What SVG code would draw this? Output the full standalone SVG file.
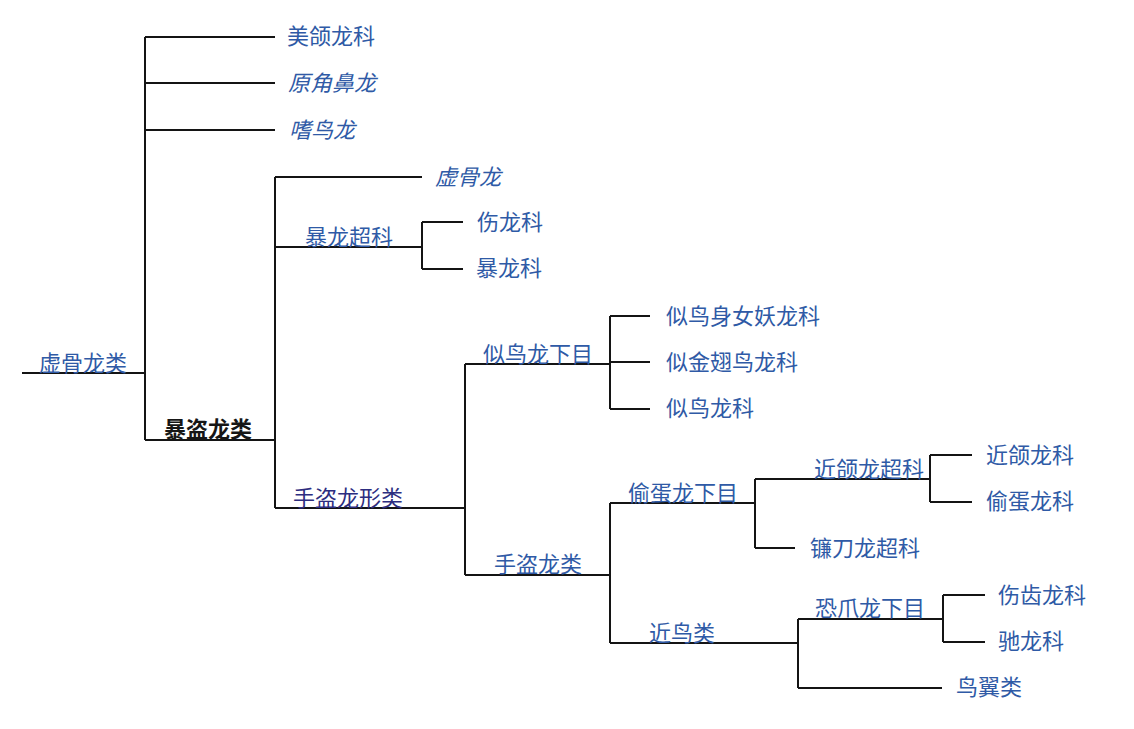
<svg xmlns="http://www.w3.org/2000/svg" width="1134" height="729" viewBox="0 0 1134 729">
<style>
.t{font-family:"Noto Sans CJK SC","Noto Sans",sans-serif;font-size:22px;fill:#2f5aa6}
.i{font-style:italic}
.k{fill:#161616;font-weight:bold}
.n{fill:#2c2d80}
.c{fill:none;stroke:#141414;stroke-width:2}
</style>
<rect width="1134" height="729" fill="#ffffff"/>
<g id="connectors" class="c">
<path d="M22 373H145M145 37V440M145 37H275M145 83H275M145 130H275M145 440H275"/>
<path d="M275 177V508M275 177H422M275 247H422M275 508H465"/>
<path d="M422 222V269M422 222H463M422 269H463"/>
<path d="M465 364V575M465 364H610M465 575H610"/>
<path d="M610 316V409M610 316H650M610 362H650M610 409H650"/>
<path d="M610 503V643M610 503H755M610 643H798"/>
<path d="M755 479V548M755 479H930M755 548H795"/>
<path d="M930 455V502M930 455H972M930 502H972"/>
<path d="M798 619V688M798 619H943M798 688H942"/>
<path d="M943 595V642M943 595H985M943 642H985"/>
</g>
<g id="n-coelurosauria"><text class="t" x="39" y="371">虚骨龙类</text></g>
<g id="n-compsognathidae"><text class="t" x="287" y="44">美颌龙科</text></g>
<g id="n-proceratosaurus"><text class="t i" x="288" y="91">原角鼻龙</text></g>
<g id="n-ornitholestes"><text class="t i" x="289" y="138">嗜鸟龙</text></g>
<g id="n-tyrannoraptora"><text class="t k" x="164" y="437">暴盗龙类</text></g>
<g id="n-coelurus"><text class="t i" x="435" y="185">虚骨龙</text></g>
<g id="n-tyrannosauroidea"><text class="t" x="305" y="245">暴龙超科</text></g>
<g id="n-proceratosauridae"><text class="t" x="477" y="230">伤龙科</text></g>
<g id="n-tyrannosauridae"><text class="t" x="476" y="276">暴龙科</text></g>
<g id="n-maniraptoriformes"><text class="t n" x="293" y="506">手盗龙形类</text></g>
<g id="n-ornithomimosauria"><text class="t" x="483" y="362">似鸟龙下目</text></g>
<g id="n-harpymimidae"><text class="t" x="666" y="324">似鸟身女妖龙科</text></g>
<g id="n-garudimimidae"><text class="t" x="666" y="370">似金翅鸟龙科</text></g>
<g id="n-ornithomimidae"><text class="t" x="666" y="416">似鸟龙科</text></g>
<g id="n-maniraptora"><text class="t" x="494" y="572">手盗龙类</text></g>
<g id="n-oviraptorosauria"><text class="t" x="628" y="501">偷蛋龙下目</text></g>
<g id="n-caenagnathoidea"><text class="t" x="814" y="477">近颌龙超科</text></g>
<g id="n-caenagnathidae"><text class="t" x="986" y="463">近颌龙科</text></g>
<g id="n-oviraptoridae"><text class="t" x="986" y="509">偷蛋龙科</text></g>
<g id="n-therizinosauroidea"><text class="t" x="810" y="556">镰刀龙超科</text></g>
<g id="n-paraves"><text class="t" x="649" y="641">近鸟类</text></g>
<g id="n-deinonychosauria"><text class="t" x="815" y="616">恐爪龙下目</text></g>
<g id="n-troodontidae"><text class="t" x="998" y="603">伤齿龙科</text></g>
<g id="n-dromaeosauridae"><text class="t" x="998" y="649">驰龙科</text></g>
<g id="n-avialae"><text class="t" x="956" y="695">鸟翼类</text></g>
</svg>
